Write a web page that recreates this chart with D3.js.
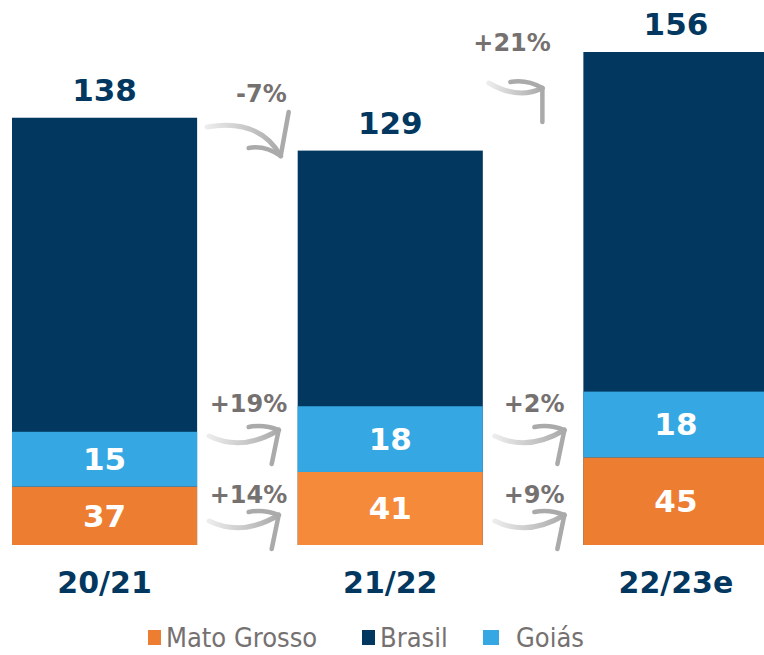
<!DOCTYPE html>
<html>
<head>
<meta charset="utf-8">
<script src="https://cdn.jsdelivr.net/npm/d3@7"></script>
<style>
  body { margin: 0; background: #fff; }
  svg { display: block; }
</style>
</head>
<body>
<script>
// data
const seasons = ['20/21', '21/22', '22/23e'];
const brasil = [138, 129, 156];
const goias = [15, 18, 18];
const matoGrosso = [37, 41, 45];
const brasilChange = ['-7%', '+21%'];
const goiasChange = ['+19%', '+2%'];
const matoChange = ['+14%', '+9%'];
const legendLabels = ['Mato Grosso', 'Brasil', 'Goiás'];

let w = 764,
  h = 655,
  navy = '#02375f',
  blue = '#35a8e3',
  orange = ['#ed7d31', '#f58a3b', '#ed7d31'],
  grey = '#767171',
  font = 'DejaVu Sans, Verdana, sans-serif';

let svg = d3.select('body')
  .append('svg')
  .attr('width', w)
  .attr('height', h);

let xScale = d3.scaleBand()
  .domain(seasons)
  .range([12, 768.5])
  .paddingInner(0.352)
  .paddingOuter(0);

// axis does not start at zero in the original
let yScale = d3.scaleLinear()
  .domain([21, 156])
  .range([545, 52]);

const base = yScale(21);
const bw = xScale.bandwidth();

// gradient for the arrows
const defs = svg.append('defs');
const grad = defs.append('linearGradient')
  .attr('id', 'arrowGrad')
  .attr('x1', '0%').attr('x2', '100%').attr('y1', '0%').attr('y2', '0%');
grad.append('stop').attr('offset', '0%').attr('stop-color', '#ececec');
grad.append('stop').attr('offset', '100%').attr('stop-color', '#a9a9a9');

// Brasil bars (full height)
svg.selectAll('rect.brasil')
  .data(brasil)
  .enter()
  .append('rect')
  .attr('class', 'brasil')
  .attr('x', (d, i) => xScale(seasons[i]))
  .attr('y', d => yScale(d))
  .attr('width', bw)
  .attr('height', d => base - yScale(d))
  .attr('fill', navy);

// Mato Grosso
svg.selectAll('rect.mato')
  .data(matoGrosso)
  .enter()
  .append('rect')
  .attr('class', 'mato')
  .attr('x', (d, i) => xScale(seasons[i]))
  .attr('y', d => yScale(d))
  .attr('width', bw)
  .attr('height', d => base - yScale(d))
  .attr('fill', (d, i) => orange[i]);

// Goiás stacked on top of Mato Grosso
const goTop = (d, i) => yScale(matoGrosso[i] + d);
svg.selectAll('rect.goias')
  .data(goias)
  .enter()
  .append('rect')
  .attr('class', 'goias')
  .attr('x', (d, i) => xScale(seasons[i]))
  .attr('y', goTop)
  .attr('width', bw)
  .attr('height', (d, i) => yScale(matoGrosso[i]) - goTop(d, i))
  .attr('fill', blue);

// value labels
svg.selectAll('text.total')
  .data(brasil)
  .enter()
  .append('text')
  .attr('class', 'total')
  .text(d => d)
  .attr('x', (d, i) => xScale(seasons[i]) + bw / 2)
  .attr('y', d => yScale(d) - 17)
  .attr('text-anchor', 'middle')
  .attr('font-family', font)
  .attr('font-weight', 'bold')
  .attr('font-size', '31px')
  .attr('fill', navy);

svg.selectAll('text.matoVal')
  .data(matoGrosso)
  .enter()
  .append('text')
  .attr('class', 'matoVal')
  .text(d => d)
  .attr('x', (d, i) => xScale(seasons[i]) + bw / 2)
  .attr('y', d => (yScale(d) + base) / 2 + 11)
  .attr('text-anchor', 'middle')
  .attr('font-family', font)
  .attr('font-weight', 'bold')
  .attr('font-size', '31px')
  .attr('fill', 'white');

svg.selectAll('text.goiasVal')
  .data(goias)
  .enter()
  .append('text')
  .attr('class', 'goiasVal')
  .text(d => d)
  .attr('x', (d, i) => xScale(seasons[i]) + bw / 2)
  .attr('y', (d, i) => (goTop(d, i) + yScale(matoGrosso[i])) / 2 + 11)
  .attr('text-anchor', 'middle')
  .attr('font-family', font)
  .attr('font-weight', 'bold')
  .attr('font-size', '31px')
  .attr('fill', 'white');

// category labels
svg.selectAll('text.cat')
  .data(seasons)
  .enter()
  .append('text')
  .attr('class', 'cat')
  .text(d => d)
  .attr('x', d => xScale(d) + bw / 2)
  .attr('y', 593)
  .attr('text-anchor', 'middle')
  .attr('font-family', font)
  .attr('font-weight', 'bold')
  .attr('font-size', '30px')
  .attr('fill', navy);

// curved arrows between the bars
const arrowLine = (sx, sy, cx, cy, tx, ty) => `M${sx},${sy} Q${cx},${cy} ${tx},${ty}`;

function drawArrow(g, sx, sy, cx, cy, tx, ty, b1, b2) {
  g.append('path')
    .attr('d', arrowLine(sx, sy, cx, cy, tx, ty))
    .attr('fill', 'none')
    .attr('stroke', 'url(#arrowGrad)')
    .attr('stroke-width', 5)
    .attr('stroke-linecap', 'round');
  g.append('path')
    .attr('d', `M${b1[0]},${b1[1]} Q${(b1[0] + tx) / 2},${b1[1] - 3} ${tx},${ty} L${b2[0]},${b2[1]}`)
    .attr('fill', 'none')
    .attr('stroke', '#aaa')
    .attr('stroke-width', 4.5)
    .attr('stroke-linecap', 'round')
    .attr('stroke-linejoin', 'round');
}

const arrows = svg.append('g');
const gapL = i => xScale(seasons[i]) + bw;
const gapR = i => xScale(seasons[i + 1]);

function pctLabel(txt, x, y) {
  arrows.append('text')
    .text(txt)
    .attr('x', x)
    .attr('y', y)
    .attr('text-anchor', 'middle')
    .attr('font-family', font)
    .attr('font-weight', 'bold')
    .attr('font-size', '24px')
    .attr('fill', grey);
}

function growthRow(labels, textY, arrowY) {
  labels.forEach((lab, i) => {
    const gl = gapL(i), gr = gapR(i);
    pctLabel(lab, (gl + gr) / 2 + 1, textY);
    const tx = gr - 19, ty = arrowY;
    drawArrow(arrows, gl + 12, arrowY + 6, gl + 45, arrowY + 22, tx, ty,
      [tx - 30, ty - 3], [tx - 7, ty + 34]);
  });
}

growthRow(goiasChange, 412, 430);
growthRow(matoChange, 503, 515);

// top row arrows (Brasil)
[0, 1].forEach(i => {
  const gl = gapL(i), gr = gapR(i);
  const mid = (gl + gr) / 2;
  if (i === 0) {
    pctLabel(brasilChange[i], mid + 14, 102);
    const tx = gr - 17, ty = 156;
    drawArrow(arrows, gl + 10, 127, gl + 62, 118, tx, ty, [tx - 32, ty - 8], [tx + 8, ty - 44]);
  } else {
    pctLabel(brasilChange[i], mid - 21, 51);
    const tx = gr - 41, ty = 88;
    drawArrow(arrows, gl + 6, 83, gl + 35, 100, tx, ty, [tx - 32, ty - 6], [tx, ty + 34]);
  }
});

// legend
const legendColors = [orange[0], navy, blue];
const legendX = [148, 362, 483];
const legend = svg.append('g')
  .selectAll('g')
  .data(legendLabels)
  .enter()
  .append('g')
  .attr('transform', (d, i) => `translate(${legendX[i]}, 630)`);

legend.append('rect')
  .attr('width', (d, i) => i === 2 ? 16 : 13)
  .attr('height', 15)
  .attr('fill', (d, i) => legendColors[i]);

legend.append('text')
  .text(d => d)
  .attr('x', (d, i) => i === 2 ? 33 : 18)
  .attr('y', 17)
  .attr('font-family', 'DejaVu Sans Condensed, DejaVu Sans, sans-serif')
  .attr('font-stretch', 'condensed')
  .attr('font-size', '27px')
  .attr('fill', grey);
</script>
</body>
</html>
